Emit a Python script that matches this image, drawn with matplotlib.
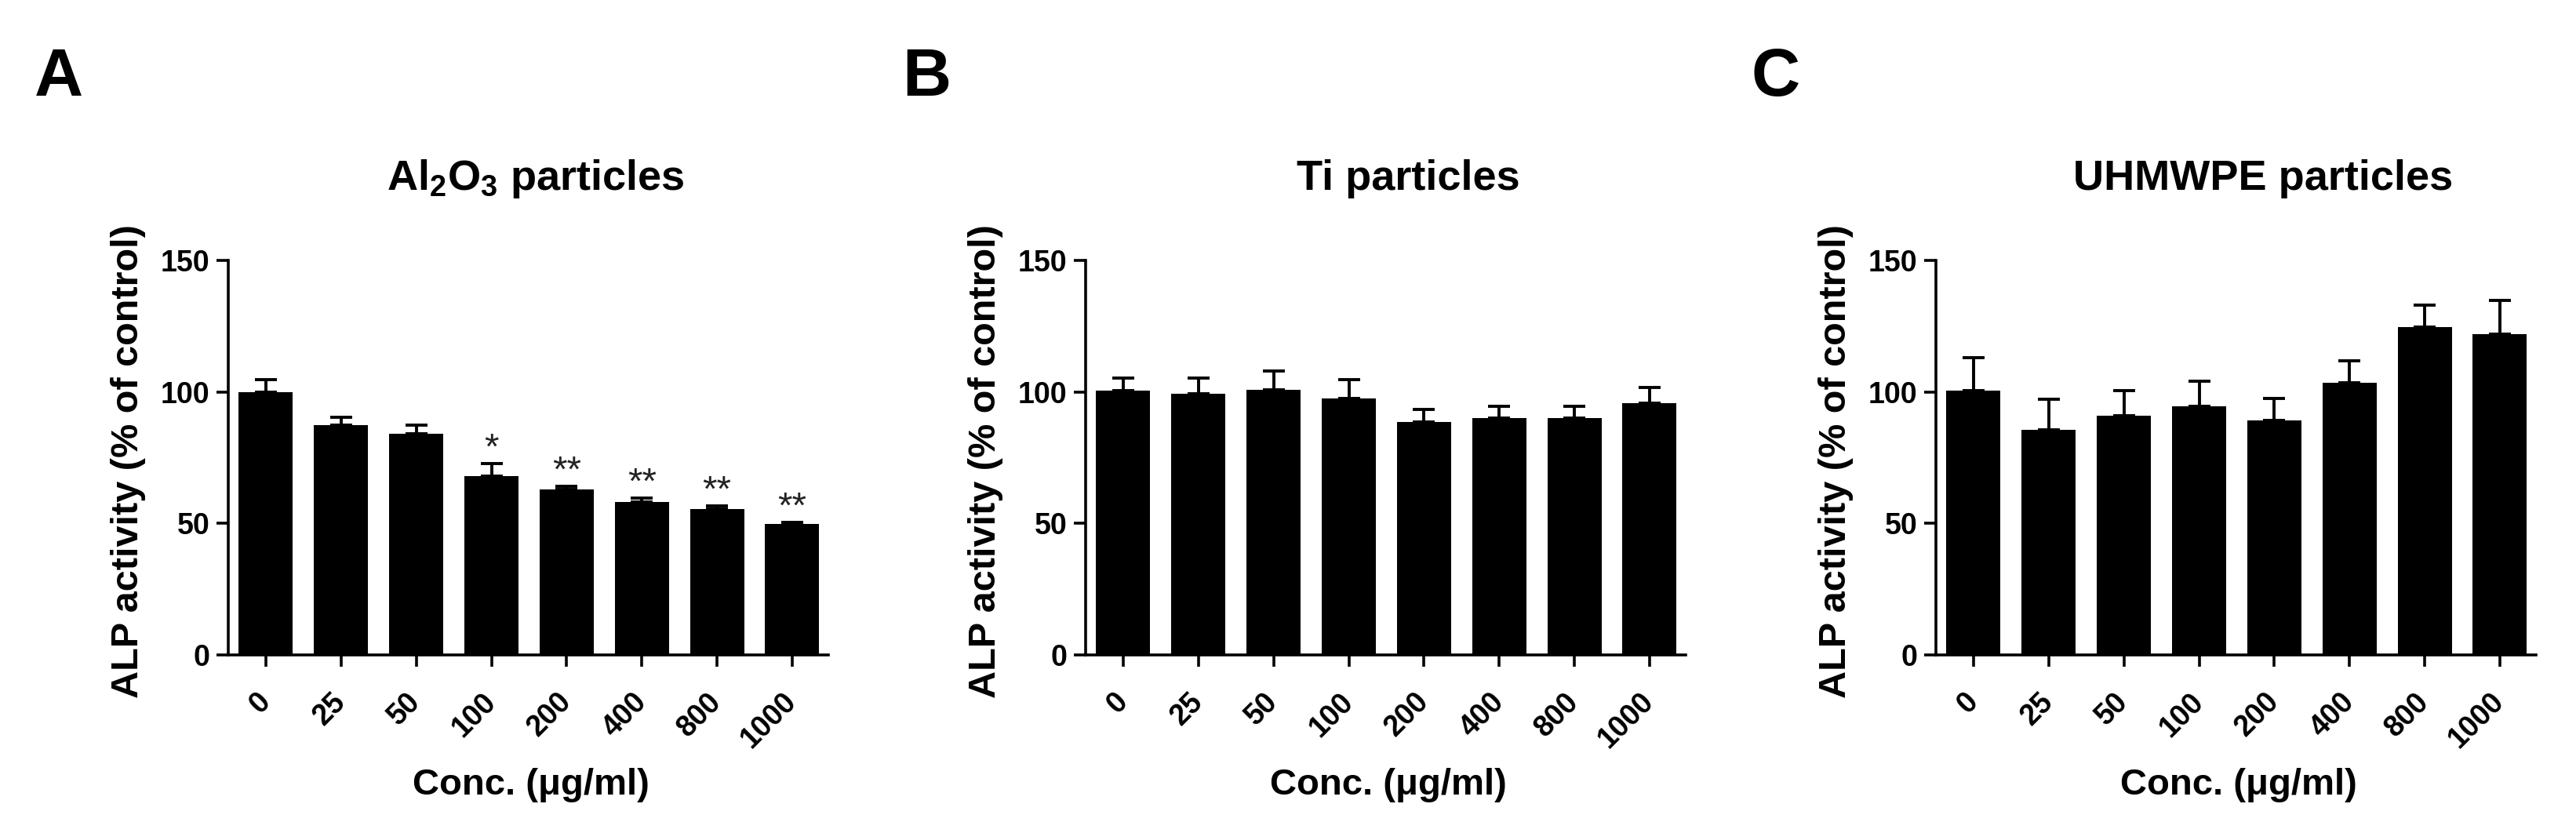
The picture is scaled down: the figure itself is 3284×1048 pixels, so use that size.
import numpy as np
import matplotlib
matplotlib.use("Agg")
import matplotlib.pyplot as plt

plt.rcParams['font.family'] = ['Liberation Sans', 'DejaVu Sans']
plt.rcParams['font.weight'] = 'bold'
plt.rcParams['mathtext.fontset'] = 'custom'
plt.rcParams['mathtext.rm'] = 'Liberation Sans:bold'
plt.rcParams['mathtext.default'] = 'rm'

# Data
conc = ['0', '25', '50', '100', '200', '400', '800', '1000']

al2o3_mean = [100, 87.5, 84.1, 68.0, 62.9, 58.2, 55.6, 49.7]
al2o3_err = [4.8, 2.9, 3.4, 4.7, 1.2, 1.4, 1.0, 0.6]
al2o3_sig = ['', '', '', '*', '**', '**', '**', '**']

ti_mean = [100.5, 99.3, 100.8, 97.5, 88.7, 90.0, 90.0, 95.7]
ti_err = [4.9, 6.1, 7.3, 7.3, 4.7, 4.4, 4.4, 6.1]

uhmwpe_mean = [100.5, 85.7, 91.0, 94.4, 89.2, 103.4, 124.8, 121.9]
uhmwpe_err = [12.5, 11.4, 9.6, 9.6, 8.3, 8.3, 8.3, 13.0]

panels = [
    ('A', 'Al$_2$O$_3$ particles', al2o3_mean, al2o3_err, al2o3_sig),
    ('B', 'Ti particles', ti_mean, ti_err, None),
    ('C', 'UHMWPE particles', uhmwpe_mean, uhmwpe_err, None),
]

W, H = 3284, 1048
fig = plt.figure(figsize=(W / 100, H / 100), dpi=100)

lefts = [291, 1384, 2468]
ax_w = 765
ax_bottom = 835
ax_top = 332
ax_h = ax_bottom - ax_top
letter_x = [44, 1150, 2232]
title_x = [683, 1795, 2885]

x = np.arange(len(conc))
for i, (letter, title, mean, err, sig) in enumerate(panels):
    ax = fig.add_axes([lefts[i] / W, 1 - ax_bottom / H, ax_w / W, ax_h / H])
    ax.bar(x, mean, width=0.72, color='black', zorder=2)
    ax.errorbar(x, mean, yerr=[np.zeros(len(mean)), err], fmt='none',
                ecolor='black', elinewidth=2.8, capsize=10, capthick=2.8, zorder=1)
    if sig is not None:
        for xi, m, e, s in zip(x, mean, err, sig):
            if s:
                ax.text(xi, m + e + 2, s, ha='center', va='baseline',
                        fontsize=34, fontweight='normal', color='#222222')
    ax.set_xlim(-0.5, 7.48)
    ax.set_ylim(0, 150)
    ax.set_yticks([0, 50, 100, 150])
    ax.set_xticks(x)
    ax.set_xticklabels(conc, rotation=45, ha='right', va='center',
                       rotation_mode='anchor')
    for side in ['top', 'right']:
        ax.spines[side].set_visible(False)
    for side in ['left', 'bottom']:
        ax.spines[side].set_linewidth(2.6)
    ax.tick_params(axis='both', direction='out', length=11, width=2.6,
                   labelsize=27)
    ax.tick_params(axis='y', pad=6)
    ax.tick_params(axis='x', pad=28)
    ax.set_title(title, fontsize=39, fontweight='bold', pad=65,
                 x=(title_x[i] - lefts[i]) / ax_w)
    ax.set_ylabel('ALP activity (% of control)', fontsize=35, fontweight='bold',
                  va='center', ha='center')
    ax.yaxis.set_label_coords(-(lefts[i] - (lefts[i] - 128)) / ax_w, 0.49)
    ax.set_xlabel('Conc. (μg/ml)', fontsize=34, fontweight='bold', va='baseline')
    ax.xaxis.set_label_coords(0.505, -(1013 - ax_bottom) / ax_h)
    fig.text(letter_x[i] / W, 1 - 122 / H, letter, fontsize=62,
             fontweight='bold', ha='left', va='baseline')

fig.savefig('out.png', dpi=100)
